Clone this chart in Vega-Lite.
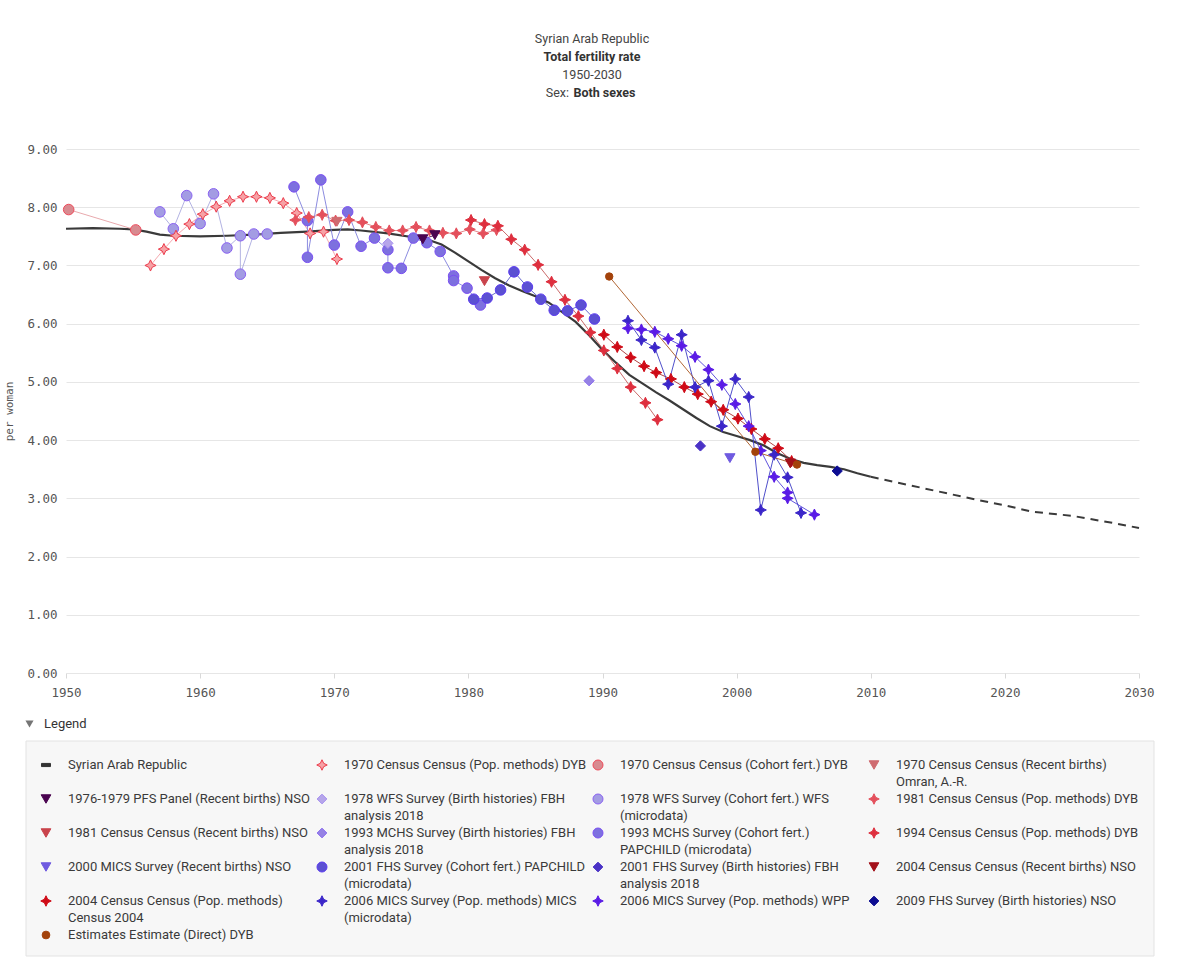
{
  "$schema": "https://vega.github.io/schema/vega-lite/v6.json",
  "background": "#ffffff",
  "padding": {"left": 3, "right": 5, "top": 0, "bottom": 0},
  "columns": 1,
  "spacing": 18,
  "config": {"view": {"stroke": null}, "font": "Roboto"},
  "datasets": {
    "header": [
      {"part": "a", "r": 1, "t": "Syrian Arab Republic"},
      {"part": "b", "r": 2, "t": "Total fertility rate"},
      {"part": "a", "r": 3, "t": "1950-2030"},
      {"part": "c", "r": 4, "t": "Sex:"},
      {"part": "d", "r": 4, "t": "Both sexes"}
    ],
    "wpp": [
      {"kind": "est", "x": 1950, "y": 7.63}, {"kind": "est", "x": 1952, "y": 7.64}, {"kind": "est", "x": 1954, "y": 7.63},
      {"kind": "est", "x": 1955, "y": 7.62}, {"kind": "est", "x": 1956, "y": 7.58}, {"kind": "est", "x": 1957, "y": 7.53},
      {"kind": "est", "x": 1958, "y": 7.51}, {"kind": "est", "x": 1960, "y": 7.50}, {"kind": "est", "x": 1962, "y": 7.51},
      {"kind": "est", "x": 1964, "y": 7.53}, {"kind": "est", "x": 1966, "y": 7.56}, {"kind": "est", "x": 1968, "y": 7.58},
      {"kind": "est", "x": 1970, "y": 7.61}, {"kind": "est", "x": 1971, "y": 7.62}, {"kind": "est", "x": 1972, "y": 7.60},
      {"kind": "est", "x": 1974, "y": 7.55}, {"kind": "est", "x": 1976, "y": 7.48}, {"kind": "est", "x": 1977, "y": 7.44},
      {"kind": "est", "x": 1978, "y": 7.36}, {"kind": "est", "x": 1979, "y": 7.22}, {"kind": "est", "x": 1980, "y": 7.07},
      {"kind": "est", "x": 1981, "y": 6.92}, {"kind": "est", "x": 1982, "y": 6.78}, {"kind": "est", "x": 1983, "y": 6.66},
      {"kind": "est", "x": 1984, "y": 6.56}, {"kind": "est", "x": 1985, "y": 6.47}, {"kind": "est", "x": 1986, "y": 6.36},
      {"kind": "est", "x": 1987, "y": 6.20}, {"kind": "est", "x": 1988, "y": 6.03}, {"kind": "est", "x": 1989, "y": 5.80},
      {"kind": "est", "x": 1990, "y": 5.55}, {"kind": "est", "x": 1991, "y": 5.33}, {"kind": "est", "x": 1992, "y": 5.12},
      {"kind": "est", "x": 1993, "y": 4.97}, {"kind": "est", "x": 1994, "y": 4.82}, {"kind": "est", "x": 1995, "y": 4.68},
      {"kind": "est", "x": 1996, "y": 4.53}, {"kind": "est", "x": 1997, "y": 4.38}, {"kind": "est", "x": 1998, "y": 4.24},
      {"kind": "est", "x": 1999, "y": 4.14}, {"kind": "est", "x": 2000, "y": 4.07}, {"kind": "est", "x": 2001, "y": 4.00},
      {"kind": "est", "x": 2002, "y": 3.91}, {"kind": "est", "x": 2003, "y": 3.78}, {"kind": "est", "x": 2004, "y": 3.68},
      {"kind": "est", "x": 2005, "y": 3.61}, {"kind": "est", "x": 2006, "y": 3.57}, {"kind": "est", "x": 2007, "y": 3.54},
      {"kind": "est", "x": 2008, "y": 3.50}, {"kind": "est", "x": 2009, "y": 3.43}, {"kind": "est", "x": 2010, "y": 3.37},
      {"kind": "proj", "x": 2010, "y": 3.37}, {"kind": "proj", "x": 2012, "y": 3.27}, {"kind": "proj", "x": 2015, "y": 3.12},
      {"kind": "proj", "x": 2018, "y": 2.97}, {"kind": "proj", "x": 2020, "y": 2.88}, {"kind": "proj", "x": 2022, "y": 2.77},
      {"kind": "proj", "x": 2025, "y": 2.70}, {"kind": "proj", "x": 2028, "y": 2.58}, {"kind": "proj", "x": 2030, "y": 2.49}
    ],
    "obs": [
      {"s": "1970 Census Census (Pop. methods) DYB", "i": 1, "x": 1956.3, "y": 7.00},
      {"s": "1970 Census Census (Pop. methods) DYB", "i": 2, "x": 1957.3, "y": 7.28},
      {"s": "1970 Census Census (Pop. methods) DYB", "i": 3, "x": 1958.2, "y": 7.51},
      {"s": "1970 Census Census (Pop. methods) DYB", "i": 4, "x": 1959.2, "y": 7.71},
      {"s": "1970 Census Census (Pop. methods) DYB", "i": 5, "x": 1960.2, "y": 7.88},
      {"s": "1970 Census Census (Pop. methods) DYB", "i": 6, "x": 1961.2, "y": 8.01},
      {"s": "1970 Census Census (Pop. methods) DYB", "i": 7, "x": 1962.2, "y": 8.11},
      {"s": "1970 Census Census (Pop. methods) DYB", "i": 8, "x": 1963.2, "y": 8.18},
      {"s": "1970 Census Census (Pop. methods) DYB", "i": 9, "x": 1964.2, "y": 8.18},
      {"s": "1970 Census Census (Pop. methods) DYB", "i": 10, "x": 1965.2, "y": 8.16},
      {"s": "1970 Census Census (Pop. methods) DYB", "i": 11, "x": 1966.2, "y": 8.07},
      {"s": "1970 Census Census (Pop. methods) DYB", "i": 12, "x": 1967.2, "y": 7.90},
      {"s": "1970 Census Census (Pop. methods) DYB", "i": 13, "x": 1968.2, "y": 7.55},
      {"s": "1970 Census Census (Pop. methods) DYB", "i": 14, "x": 1969.2, "y": 7.58},
      {"s": "1970 Census Census (Pop. methods) DYB", "i": 15, "x": 1970.2, "y": 7.11},
      {"s": "1970 Census Census (Cohort fert.) DYB", "i": 16, "x": 1950.2, "y": 7.96},
      {"s": "1970 Census Census (Cohort fert.) DYB", "i": 17, "x": 1955.2, "y": 7.61},
      {"s": "1970 Census Census (Recent births) Omran, A.-R.", "i": 18, "x": 1970.2, "y": 7.75},
      {"s": "1976-1979 PFS Panel (Recent births) NSO", "i": 19, "x": 1976.6, "y": 7.45},
      {"s": "1976-1979 PFS Panel (Recent births) NSO", "i": 20, "x": 1977.5, "y": 7.52},
      {"s": "1978 WFS Survey (Birth histories) FBH analysis 2018", "i": 21, "x": 1974.0, "y": 7.38},
      {"s": "1978 WFS Survey (Cohort fert.) WFS (microdata)", "i": 22, "x": 1957.0, "y": 7.92},
      {"s": "1978 WFS Survey (Cohort fert.) WFS (microdata)", "i": 23, "x": 1958.0, "y": 7.63},
      {"s": "1978 WFS Survey (Cohort fert.) WFS (microdata)", "i": 24, "x": 1959.0, "y": 8.20},
      {"s": "1978 WFS Survey (Cohort fert.) WFS (microdata)", "i": 25, "x": 1960.0, "y": 7.72},
      {"s": "1978 WFS Survey (Cohort fert.) WFS (microdata)", "i": 26, "x": 1961.0, "y": 8.23},
      {"s": "1978 WFS Survey (Cohort fert.) WFS (microdata)", "i": 27, "x": 1962.0, "y": 7.30},
      {"s": "1978 WFS Survey (Cohort fert.) WFS (microdata)", "i": 28, "x": 1963.0, "y": 7.51},
      {"s": "1978 WFS Survey (Cohort fert.) WFS (microdata)", "i": 29, "x": 1963.0, "y": 6.85},
      {"s": "1978 WFS Survey (Cohort fert.) WFS (microdata)", "i": 30, "x": 1964.0, "y": 7.54},
      {"s": "1978 WFS Survey (Cohort fert.) WFS (microdata)", "i": 31, "x": 1965.0, "y": 7.54},
      {"s": "1981 Census Census (Pop. methods) DYB", "i": 32, "x": 1967.1, "y": 7.78},
      {"s": "1981 Census Census (Pop. methods) DYB", "i": 33, "x": 1968.1, "y": 7.83},
      {"s": "1981 Census Census (Pop. methods) DYB", "i": 34, "x": 1969.1, "y": 7.87},
      {"s": "1981 Census Census (Pop. methods) DYB", "i": 35, "x": 1970.1, "y": 7.77},
      {"s": "1981 Census Census (Pop. methods) DYB", "i": 36, "x": 1971.1, "y": 7.78},
      {"s": "1981 Census Census (Pop. methods) DYB", "i": 37, "x": 1972.1, "y": 7.74},
      {"s": "1981 Census Census (Pop. methods) DYB", "i": 38, "x": 1973.1, "y": 7.66},
      {"s": "1981 Census Census (Pop. methods) DYB", "i": 39, "x": 1974.1, "y": 7.60},
      {"s": "1981 Census Census (Pop. methods) DYB", "i": 40, "x": 1975.1, "y": 7.60},
      {"s": "1981 Census Census (Pop. methods) DYB", "i": 41, "x": 1976.1, "y": 7.66},
      {"s": "1981 Census Census (Pop. methods) DYB", "i": 42, "x": 1977.1, "y": 7.60},
      {"s": "1981 Census Census (Pop. methods) DYB", "i": 43, "x": 1978.1, "y": 7.56},
      {"s": "1981 Census Census (Pop. methods) DYB", "i": 44, "x": 1979.1, "y": 7.55},
      {"s": "1981 Census Census (Pop. methods) DYB", "i": 45, "x": 1980.1, "y": 7.62},
      {"s": "1981 Census Census (Pop. methods) DYB", "i": 46, "x": 1981.1, "y": 7.55},
      {"s": "1981 Census Census (Pop. methods) DYB", "i": 47, "x": 1982.1, "y": 7.61},
      {"s": "1981 Census Census (Recent births) NSO", "i": 48, "x": 1981.2, "y": 6.73},
      {"s": "1993 MCHS Survey (Birth histories) FBH analysis 2018", "i": 49, "x": 1989.0, "y": 5.02},
      {"s": "1993 MCHS Survey (Cohort fert.) PAPCHILD (microdata)", "i": 50, "x": 1967.0, "y": 8.35},
      {"s": "1993 MCHS Survey (Cohort fert.) PAPCHILD (microdata)", "i": 51, "x": 1968.0, "y": 7.77},
      {"s": "1993 MCHS Survey (Cohort fert.) PAPCHILD (microdata)", "i": 52, "x": 1968.0, "y": 7.14},
      {"s": "1993 MCHS Survey (Cohort fert.) PAPCHILD (microdata)", "i": 53, "x": 1969.0, "y": 8.47},
      {"s": "1993 MCHS Survey (Cohort fert.) PAPCHILD (microdata)", "i": 54, "x": 1970.0, "y": 7.35},
      {"s": "1993 MCHS Survey (Cohort fert.) PAPCHILD (microdata)", "i": 55, "x": 1971.0, "y": 7.92},
      {"s": "1993 MCHS Survey (Cohort fert.) PAPCHILD (microdata)", "i": 56, "x": 1972.0, "y": 7.33},
      {"s": "1993 MCHS Survey (Cohort fert.) PAPCHILD (microdata)", "i": 57, "x": 1973.0, "y": 7.47},
      {"s": "1993 MCHS Survey (Cohort fert.) PAPCHILD (microdata)", "i": 58, "x": 1974.0, "y": 7.27},
      {"s": "1993 MCHS Survey (Cohort fert.) PAPCHILD (microdata)", "i": 59, "x": 1974.0, "y": 6.96},
      {"s": "1993 MCHS Survey (Cohort fert.) PAPCHILD (microdata)", "i": 60, "x": 1975.0, "y": 6.95},
      {"s": "1993 MCHS Survey (Cohort fert.) PAPCHILD (microdata)", "i": 61, "x": 1975.9, "y": 7.47},
      {"s": "1993 MCHS Survey (Cohort fert.) PAPCHILD (microdata)", "i": 62, "x": 1976.9, "y": 7.39},
      {"s": "1993 MCHS Survey (Cohort fert.) PAPCHILD (microdata)", "i": 63, "x": 1977.9, "y": 7.24},
      {"s": "1993 MCHS Survey (Cohort fert.) PAPCHILD (microdata)", "i": 64, "x": 1978.9, "y": 6.82},
      {"s": "1993 MCHS Survey (Cohort fert.) PAPCHILD (microdata)", "i": 65, "x": 1978.9, "y": 6.74},
      {"s": "1993 MCHS Survey (Cohort fert.) PAPCHILD (microdata)", "i": 66, "x": 1979.9, "y": 6.61},
      {"s": "1993 MCHS Survey (Cohort fert.) PAPCHILD (microdata)", "i": 67, "x": 1980.9, "y": 6.32},
      {"s": "1994 Census Census (Pop. methods) DYB", "i": 68, "x": 1980.2, "y": 7.78},
      {"s": "1994 Census Census (Pop. methods) DYB", "i": 69, "x": 1981.2, "y": 7.71},
      {"s": "1994 Census Census (Pop. methods) DYB", "i": 70, "x": 1982.2, "y": 7.68},
      {"s": "1994 Census Census (Pop. methods) DYB", "i": 71, "x": 1983.2, "y": 7.45},
      {"s": "1994 Census Census (Pop. methods) DYB", "i": 72, "x": 1984.2, "y": 7.27},
      {"s": "1994 Census Census (Pop. methods) DYB", "i": 73, "x": 1985.2, "y": 7.01},
      {"s": "1994 Census Census (Pop. methods) DYB", "i": 74, "x": 1986.2, "y": 6.72},
      {"s": "1994 Census Census (Pop. methods) DYB", "i": 75, "x": 1987.2, "y": 6.41},
      {"s": "1994 Census Census (Pop. methods) DYB", "i": 76, "x": 1988.2, "y": 6.13},
      {"s": "1994 Census Census (Pop. methods) DYB", "i": 77, "x": 1989.1, "y": 5.85},
      {"s": "1994 Census Census (Pop. methods) DYB", "i": 78, "x": 1990.1, "y": 5.54},
      {"s": "1994 Census Census (Pop. methods) DYB", "i": 79, "x": 1991.1, "y": 5.23},
      {"s": "1994 Census Census (Pop. methods) DYB", "i": 80, "x": 1992.1, "y": 4.91},
      {"s": "1994 Census Census (Pop. methods) DYB", "i": 81, "x": 1993.2, "y": 4.64},
      {"s": "1994 Census Census (Pop. methods) DYB", "i": 82, "x": 1994.1, "y": 4.35},
      {"s": "2000 MICS Survey (Recent births) NSO", "i": 83, "x": 1999.5, "y": 3.69},
      {"s": "2001 FHS Survey (Cohort fert.) PAPCHILD (microdata)", "i": 84, "x": 1980.4, "y": 6.42},
      {"s": "2001 FHS Survey (Cohort fert.) PAPCHILD (microdata)", "i": 85, "x": 1981.4, "y": 6.44},
      {"s": "2001 FHS Survey (Cohort fert.) PAPCHILD (microdata)", "i": 86, "x": 1982.4, "y": 6.58},
      {"s": "2001 FHS Survey (Cohort fert.) PAPCHILD (microdata)", "i": 87, "x": 1983.4, "y": 6.89},
      {"s": "2001 FHS Survey (Cohort fert.) PAPCHILD (microdata)", "i": 88, "x": 1984.4, "y": 6.63},
      {"s": "2001 FHS Survey (Cohort fert.) PAPCHILD (microdata)", "i": 89, "x": 1985.4, "y": 6.42},
      {"s": "2001 FHS Survey (Cohort fert.) PAPCHILD (microdata)", "i": 90, "x": 1986.4, "y": 6.23},
      {"s": "2001 FHS Survey (Cohort fert.) PAPCHILD (microdata)", "i": 91, "x": 1987.4, "y": 6.22},
      {"s": "2001 FHS Survey (Cohort fert.) PAPCHILD (microdata)", "i": 92, "x": 1988.4, "y": 6.32},
      {"s": "2001 FHS Survey (Cohort fert.) PAPCHILD (microdata)", "i": 93, "x": 1989.4, "y": 6.08},
      {"s": "2001 FHS Survey (Birth histories) FBH analysis 2018", "i": 94, "x": 1997.3, "y": 3.90},
      {"s": "2004 Census Census (Pop. methods) Census 2004", "i": 95, "x": 1990.1, "y": 5.81},
      {"s": "2004 Census Census (Pop. methods) Census 2004", "i": 96, "x": 1991.1, "y": 5.60},
      {"s": "2004 Census Census (Pop. methods) Census 2004", "i": 97, "x": 1992.1, "y": 5.42},
      {"s": "2004 Census Census (Pop. methods) Census 2004", "i": 98, "x": 1993.1, "y": 5.27},
      {"s": "2004 Census Census (Pop. methods) Census 2004", "i": 99, "x": 1994.0, "y": 5.16},
      {"s": "2004 Census Census (Pop. methods) Census 2004", "i": 100, "x": 1995.1, "y": 5.05},
      {"s": "2004 Census Census (Pop. methods) Census 2004", "i": 101, "x": 1996.1, "y": 4.91},
      {"s": "2004 Census Census (Pop. methods) Census 2004", "i": 102, "x": 1997.1, "y": 4.79},
      {"s": "2004 Census Census (Pop. methods) Census 2004", "i": 103, "x": 1998.1, "y": 4.66},
      {"s": "2004 Census Census (Pop. methods) Census 2004", "i": 104, "x": 1999.0, "y": 4.52},
      {"s": "2004 Census Census (Pop. methods) Census 2004", "i": 105, "x": 2000.1, "y": 4.37},
      {"s": "2004 Census Census (Pop. methods) Census 2004", "i": 106, "x": 2001.1, "y": 4.19},
      {"s": "2004 Census Census (Pop. methods) Census 2004", "i": 107, "x": 2002.1, "y": 4.02},
      {"s": "2004 Census Census (Pop. methods) Census 2004", "i": 108, "x": 2003.1, "y": 3.86},
      {"s": "2004 Census Census (Pop. methods) Census 2004", "i": 109, "x": 2004.1, "y": 3.64},
      {"s": "2004 Census Census (Recent births) NSO", "i": 110, "x": 2004.0, "y": 3.60},
      {"s": "2006 MICS Survey (Pop. methods) MICS (microdata)", "i": 111, "x": 1991.9, "y": 6.05},
      {"s": "2006 MICS Survey (Pop. methods) MICS (microdata)", "i": 112, "x": 1992.9, "y": 5.72},
      {"s": "2006 MICS Survey (Pop. methods) MICS (microdata)", "i": 113, "x": 1993.9, "y": 5.59},
      {"s": "2006 MICS Survey (Pop. methods) MICS (microdata)", "i": 114, "x": 1994.9, "y": 4.96},
      {"s": "2006 MICS Survey (Pop. methods) MICS (microdata)", "i": 115, "x": 1995.9, "y": 5.81},
      {"s": "2006 MICS Survey (Pop. methods) MICS (microdata)", "i": 116, "x": 1996.9, "y": 4.91},
      {"s": "2006 MICS Survey (Pop. methods) MICS (microdata)", "i": 117, "x": 1997.9, "y": 5.02},
      {"s": "2006 MICS Survey (Pop. methods) MICS (microdata)", "i": 118, "x": 1998.9, "y": 4.24},
      {"s": "2006 MICS Survey (Pop. methods) MICS (microdata)", "i": 119, "x": 1999.9, "y": 5.05},
      {"s": "2006 MICS Survey (Pop. methods) MICS (microdata)", "i": 120, "x": 2000.9, "y": 4.74},
      {"s": "2006 MICS Survey (Pop. methods) MICS (microdata)", "i": 121, "x": 2001.8, "y": 2.80},
      {"s": "2006 MICS Survey (Pop. methods) MICS (microdata)", "i": 122, "x": 2002.8, "y": 3.75},
      {"s": "2006 MICS Survey (Pop. methods) MICS (microdata)", "i": 123, "x": 2003.8, "y": 3.36},
      {"s": "2006 MICS Survey (Pop. methods) MICS (microdata)", "i": 124, "x": 2004.8, "y": 2.75},
      {"s": "2006 MICS Survey (Pop. methods) WPP", "i": 125, "x": 1991.9, "y": 5.92},
      {"s": "2006 MICS Survey (Pop. methods) WPP", "i": 126, "x": 1992.9, "y": 5.90},
      {"s": "2006 MICS Survey (Pop. methods) WPP", "i": 127, "x": 1993.9, "y": 5.86},
      {"s": "2006 MICS Survey (Pop. methods) WPP", "i": 128, "x": 1994.9, "y": 5.74},
      {"s": "2006 MICS Survey (Pop. methods) WPP", "i": 129, "x": 1995.9, "y": 5.62},
      {"s": "2006 MICS Survey (Pop. methods) WPP", "i": 130, "x": 1996.9, "y": 5.43},
      {"s": "2006 MICS Survey (Pop. methods) WPP", "i": 131, "x": 1997.9, "y": 5.21},
      {"s": "2006 MICS Survey (Pop. methods) WPP", "i": 132, "x": 1998.9, "y": 4.95},
      {"s": "2006 MICS Survey (Pop. methods) WPP", "i": 133, "x": 1999.9, "y": 4.62},
      {"s": "2006 MICS Survey (Pop. methods) WPP", "i": 134, "x": 2000.9, "y": 4.24},
      {"s": "2006 MICS Survey (Pop. methods) WPP", "i": 135, "x": 2001.8, "y": 3.82},
      {"s": "2006 MICS Survey (Pop. methods) WPP", "i": 136, "x": 2002.8, "y": 3.37},
      {"s": "2006 MICS Survey (Pop. methods) WPP", "i": 137, "x": 2003.8, "y": 3.10},
      {"s": "2006 MICS Survey (Pop. methods) WPP", "i": 138, "x": 2003.8, "y": 3.00},
      {"s": "2006 MICS Survey (Pop. methods) WPP", "i": 139, "x": 2005.8, "y": 2.72},
      {"s": "2009 FHS Survey (Birth histories) NSO", "i": 140, "x": 2007.5, "y": 3.47},
      {"s": "Estimates Estimate (Direct) DYB", "i": 141, "x": 1990.5, "y": 6.81},
      {"s": "Estimates Estimate (Direct) DYB", "i": 142, "x": 2001.4, "y": 3.80},
      {"s": "Estimates Estimate (Direct) DYB", "i": 143, "x": 2004.5, "y": 3.58}
    ],
    "legend": [
      {"s": "Syrian Arab Republic", "col": 0, "row": 0, "label": "Syrian Arab Republic"},
      {"s": "1970 Census Census (Pop. methods) DYB", "col": 1, "row": 0, "label": "1970 Census Census (Pop. methods) DYB"},
      {"s": "1970 Census Census (Cohort fert.) DYB", "col": 2, "row": 0, "label": "1970 Census Census (Cohort fert.) DYB"},
      {"s": "1970 Census Census (Recent births) Omran, A.-R.", "col": 3, "row": 0, "label": "1970 Census Census (Recent births)\nOmran, A.-R."},
      {"s": "1976-1979 PFS Panel (Recent births) NSO", "col": 0, "row": 1, "label": "1976-1979 PFS Panel (Recent births) NSO"},
      {"s": "1978 WFS Survey (Birth histories) FBH analysis 2018", "col": 1, "row": 1, "label": "1978 WFS Survey (Birth histories) FBH\nanalysis 2018"},
      {"s": "1978 WFS Survey (Cohort fert.) WFS (microdata)", "col": 2, "row": 1, "label": "1978 WFS Survey (Cohort fert.) WFS\n(microdata)"},
      {"s": "1981 Census Census (Pop. methods) DYB", "col": 3, "row": 1, "label": "1981 Census Census (Pop. methods) DYB"},
      {"s": "1981 Census Census (Recent births) NSO", "col": 0, "row": 2, "label": "1981 Census Census (Recent births) NSO"},
      {"s": "1993 MCHS Survey (Birth histories) FBH analysis 2018", "col": 1, "row": 2, "label": "1993 MCHS Survey (Birth histories) FBH\nanalysis 2018"},
      {"s": "1993 MCHS Survey (Cohort fert.) PAPCHILD (microdata)", "col": 2, "row": 2, "label": "1993 MCHS Survey (Cohort fert.)\nPAPCHILD (microdata)"},
      {"s": "1994 Census Census (Pop. methods) DYB", "col": 3, "row": 2, "label": "1994 Census Census (Pop. methods) DYB"},
      {"s": "2000 MICS Survey (Recent births) NSO", "col": 0, "row": 3, "label": "2000 MICS Survey (Recent births) NSO"},
      {"s": "2001 FHS Survey (Cohort fert.) PAPCHILD (microdata)", "col": 1, "row": 3, "label": "2001 FHS Survey (Cohort fert.) PAPCHILD\n(microdata)"},
      {"s": "2001 FHS Survey (Birth histories) FBH analysis 2018", "col": 2, "row": 3, "label": "2001 FHS Survey (Birth histories) FBH\nanalysis 2018"},
      {"s": "2004 Census Census (Recent births) NSO", "col": 3, "row": 3, "label": "2004 Census Census (Recent births) NSO"},
      {"s": "2004 Census Census (Pop. methods) Census 2004", "col": 0, "row": 4, "label": "2004 Census Census (Pop. methods)\nCensus 2004"},
      {"s": "2006 MICS Survey (Pop. methods) MICS (microdata)", "col": 1, "row": 4, "label": "2006 MICS Survey (Pop. methods) MICS\n(microdata)"},
      {"s": "2006 MICS Survey (Pop. methods) WPP", "col": 2, "row": 4, "label": "2006 MICS Survey (Pop. methods) WPP"},
      {"s": "2009 FHS Survey (Birth histories) NSO", "col": 3, "row": 4, "label": "2009 FHS Survey (Birth histories) NSO"},
      {"s": "Estimates Estimate (Direct) DYB", "col": 0, "row": 5, "label": "Estimates Estimate (Direct) DYB"}
    ]
  },
  "concat": [
    {
      "width": 1073,
      "height": 125,
      "data": {"name": "header"},
      "encoding": {
        "y": {"field": "r", "type": "quantitative", "scale": {"domain": [-1.16667, 5.77778], "reverse": true, "nice": false, "zero": false}, "axis": null},
        "text": {"field": "t", "type": "nominal"}
      },
      "layer": [
        {"transform": [{"filter": "datum.part == 'a'"}], "mark": {"type": "text", "font": "Roboto", "fontSize": 12.5, "color": "#444444", "baseline": "middle", "align": "center", "dx": -10.5}},
        {"transform": [{"filter": "datum.part == 'b'"}], "mark": {"type": "text", "font": "Roboto", "fontSize": 12.5, "fontWeight": "bold", "color": "#333333", "baseline": "middle", "align": "center", "dx": -10.5}},
        {"transform": [{"filter": "datum.part == 'c'"}], "mark": {"type": "text", "font": "Roboto", "fontSize": 12.5, "color": "#444444", "baseline": "middle", "align": "right", "dx": -33.5}},
        {"transform": [{"filter": "datum.part == 'd'"}], "mark": {"type": "text", "font": "Roboto", "fontSize": 12.5, "fontWeight": "bold", "color": "#333333", "baseline": "middle", "align": "left", "dx": -29}}
      ]
    },
    {
      "width": 1073,
      "height": 524,
      "layer": [
        {
          "data": {"name": "wpp"},
          "transform": [{"filter": "datum.kind == 'est'"}],
          "mark": {"type": "line", "color": "#3a3a3a", "strokeWidth": 2.2},
          "encoding": {
            "x": {"field": "x", "type": "quantitative", "scale": {"domain": [1950, 2030], "nice": false, "zero": false},
              "axis": {"values": [1950, 1960, 1970, 1980, 1990, 2000, 2010, 2020, 2030], "format": "d", "title": null, "grid": false, "domain": false, "ticks": true, "tickColor": "#d9d9d9", "tickSize": 5, "labelFont": "DejaVu Sans Mono", "labelFontSize": 12.5, "labelColor": "#555555", "labelPadding": 8, "labelFlush": false}},
            "y": {"field": "y", "type": "quantitative", "scale": {"domain": [0, 9], "nice": false, "zero": true},
              "axis": {"values": [0, 1, 2, 3, 4, 5, 6, 7, 8, 9], "format": ".2f", "title": "per woman", "grid": true, "gridColor": "#e6e6e6", "domain": false, "ticks": false, "labelFont": "DejaVu Sans Mono", "labelFontSize": 12.5, "labelColor": "#555555", "labelPadding": 9, "titleFont": "DejaVu Sans Mono", "titleFontSize": 11, "titleFontWeight": "normal", "titleColor": "#555555", "titlePadding": 12}}
          }
        },
        {
          "data": {"name": "wpp"},
          "transform": [{"filter": "datum.kind == 'proj'"}],
          "mark": {"type": "line", "color": "#3a3a3a", "strokeWidth": 2, "strokeDash": [8, 6]},
          "encoding": {"x": {"field": "x", "type": "quantitative"}, "y": {"field": "y", "type": "quantitative"}}
        },
        {
          "data": {"name": "obs"},
          "mark": {"type": "line", "strokeWidth": 1, "opacity": 0.9},
          "encoding": {
            "x": {"field": "x", "type": "quantitative"},
            "y": {"field": "y", "type": "quantitative"},
            "order": {"field": "i", "type": "quantitative"},
            "color": {"field": "s", "type": "nominal", "legend": null, "scale": {
              "domain": ["Syrian Arab Republic", "1970 Census Census (Pop. methods) DYB", "1970 Census Census (Cohort fert.) DYB", "1970 Census Census (Recent births) Omran, A.-R.", "1976-1979 PFS Panel (Recent births) NSO", "1978 WFS Survey (Birth histories) FBH analysis 2018", "1978 WFS Survey (Cohort fert.) WFS (microdata)", "1981 Census Census (Pop. methods) DYB", "1981 Census Census (Recent births) NSO", "1993 MCHS Survey (Birth histories) FBH analysis 2018", "1993 MCHS Survey (Cohort fert.) PAPCHILD (microdata)", "1994 Census Census (Pop. methods) DYB", "2000 MICS Survey (Recent births) NSO", "2001 FHS Survey (Cohort fert.) PAPCHILD (microdata)", "2001 FHS Survey (Birth histories) FBH analysis 2018", "2004 Census Census (Recent births) NSO", "2004 Census Census (Pop. methods) Census 2004", "2006 MICS Survey (Pop. methods) MICS (microdata)", "2006 MICS Survey (Pop. methods) WPP", "2009 FHS Survey (Birth histories) NSO", "Estimates Estimate (Direct) DYB"],
              "range": ["#333333", "#f3a0a6", "#e6a0a4", "#cf6b70", "#4a0450", "#a58ef0", "#aaaadf", "#e07a80", "#c9434c", "#8a6af0", "#7e7edc", "#c45a5a", "#6f5ae0", "#5656c8", "#4a32c6", "#a3111a", "#a83030", "#3c3cc4", "#4f40d8", "#0d0d92", "#a8551e"]}}
          }
        },
        {
          "data": {"name": "obs"},
          "transform": [{"filter": {"field": "s", "oneOf": ["1970 Census Census (Cohort fert.) DYB", "1978 WFS Survey (Cohort fert.) WFS (microdata)", "1993 MCHS Survey (Cohort fert.) PAPCHILD (microdata)", "2001 FHS Survey (Cohort fert.) PAPCHILD (microdata)"]}}],
          "mark": {"type": "point", "filled": true, "strokeWidth": 1, "opacity": 1, "size": 112},
          "encoding": {
            "x": {"field": "x", "type": "quantitative"},
            "y": {"field": "y", "type": "quantitative"},
            "shape": {"field": "s", "type": "nominal", "legend": null, "scale": {
              "domain": ["Syrian Arab Republic", "1970 Census Census (Pop. methods) DYB", "1970 Census Census (Cohort fert.) DYB", "1970 Census Census (Recent births) Omran, A.-R.", "1976-1979 PFS Panel (Recent births) NSO", "1978 WFS Survey (Birth histories) FBH analysis 2018", "1978 WFS Survey (Cohort fert.) WFS (microdata)", "1981 Census Census (Pop. methods) DYB", "1981 Census Census (Recent births) NSO", "1993 MCHS Survey (Birth histories) FBH analysis 2018", "1993 MCHS Survey (Cohort fert.) PAPCHILD (microdata)", "1994 Census Census (Pop. methods) DYB", "2000 MICS Survey (Recent births) NSO", "2001 FHS Survey (Cohort fert.) PAPCHILD (microdata)", "2001 FHS Survey (Birth histories) FBH analysis 2018", "2004 Census Census (Recent births) NSO", "2004 Census Census (Pop. methods) Census 2004", "2006 MICS Survey (Pop. methods) MICS (microdata)", "2006 MICS Survey (Pop. methods) WPP", "2009 FHS Survey (Birth histories) NSO", "Estimates Estimate (Direct) DYB"],
              "range": ["M-1,-0.35L1,-0.35L1,0.35L-1,0.35Z", "M0,-1L0.32,-0.32L1,0L0.32,0.32L0,1L-0.32,0.32L-1,0L-0.32,-0.32Z", "circle", "triangle-down", "triangle-down", "diamond", "circle", "M0,-1L0.32,-0.32L1,0L0.32,0.32L0,1L-0.32,0.32L-1,0L-0.32,-0.32Z", "triangle-down", "diamond", "circle", "M0,-1L0.32,-0.32L1,0L0.32,0.32L0,1L-0.32,0.32L-1,0L-0.32,-0.32Z", "triangle-down", "circle", "diamond", "triangle-down", "M0,-1L0.32,-0.32L1,0L0.32,0.32L0,1L-0.32,0.32L-1,0L-0.32,-0.32Z", "M0,-1L0.32,-0.32L1,0L0.32,0.32L0,1L-0.32,0.32L-1,0L-0.32,-0.32Z", "M0,-1L0.32,-0.32L1,0L0.32,0.32L0,1L-0.32,0.32L-1,0L-0.32,-0.32Z", "diamond", "circle"]}},
            "fill": {"field": "s", "type": "nominal", "legend": null, "scale": {
              "domain": ["Syrian Arab Republic", "1970 Census Census (Pop. methods) DYB", "1970 Census Census (Cohort fert.) DYB", "1970 Census Census (Recent births) Omran, A.-R.", "1976-1979 PFS Panel (Recent births) NSO", "1978 WFS Survey (Birth histories) FBH analysis 2018", "1978 WFS Survey (Cohort fert.) WFS (microdata)", "1981 Census Census (Pop. methods) DYB", "1981 Census Census (Recent births) NSO", "1993 MCHS Survey (Birth histories) FBH analysis 2018", "1993 MCHS Survey (Cohort fert.) PAPCHILD (microdata)", "1994 Census Census (Pop. methods) DYB", "2000 MICS Survey (Recent births) NSO", "2001 FHS Survey (Cohort fert.) PAPCHILD (microdata)", "2001 FHS Survey (Birth histories) FBH analysis 2018", "2004 Census Census (Recent births) NSO", "2004 Census Census (Pop. methods) Census 2004", "2006 MICS Survey (Pop. methods) MICS (microdata)", "2006 MICS Survey (Pop. methods) WPP", "2009 FHS Survey (Birth histories) NSO", "Estimates Estimate (Direct) DYB"],
              "range": ["#333333", "#f6a2a6", "#d88a90", "#cf6b70", "#4a0450", "#b6a6ea", "#a39ce3", "#e4505c", "#c9434c", "#9582e4", "#7d70df", "#de2f3e", "#6f5ae0", "#5b50d2", "#4a32c6", "#a3111a", "#cf0a16", "#3b26c9", "#5a1be6", "#0d0d92", "#a3420b"]}},
            "stroke": {"field": "s", "type": "nominal", "legend": null, "scale": {
              "domain": ["Syrian Arab Republic", "1970 Census Census (Pop. methods) DYB", "1970 Census Census (Cohort fert.) DYB", "1970 Census Census (Recent births) Omran, A.-R.", "1976-1979 PFS Panel (Recent births) NSO", "1978 WFS Survey (Birth histories) FBH analysis 2018", "1978 WFS Survey (Cohort fert.) WFS (microdata)", "1981 Census Census (Pop. methods) DYB", "1981 Census Census (Recent births) NSO", "1993 MCHS Survey (Birth histories) FBH analysis 2018", "1993 MCHS Survey (Cohort fert.) PAPCHILD (microdata)", "1994 Census Census (Pop. methods) DYB", "2000 MICS Survey (Recent births) NSO", "2001 FHS Survey (Cohort fert.) PAPCHILD (microdata)", "2001 FHS Survey (Birth histories) FBH analysis 2018", "2004 Census Census (Recent births) NSO", "2004 Census Census (Pop. methods) Census 2004", "2006 MICS Survey (Pop. methods) MICS (microdata)", "2006 MICS Survey (Pop. methods) WPP", "2009 FHS Survey (Birth histories) NSO", "Estimates Estimate (Direct) DYB"],
              "range": ["#333333", "#ec3c4c", "#ee4a5a", "#cf6b70", "#4a0450", "#a58ef0", "#8a62f2", "#e4505c", "#c9434c", "#8a6af0", "#7a4ff2", "#de2f3e", "#6f5ae0", "#5a3af0", "#4a32c6", "#a3111a", "#cf0a16", "#3b26c9", "#5a1be6", "#0d0d92", "#a3420b"]}}
          }
        },
        {
          "data": {"name": "obs"},
          "transform": [{"filter": {"field": "s", "oneOf": ["1970 Census Census (Pop. methods) DYB", "1981 Census Census (Pop. methods) DYB", "1994 Census Census (Pop. methods) DYB", "2004 Census Census (Pop. methods) Census 2004", "2006 MICS Survey (Pop. methods) MICS (microdata)", "2006 MICS Survey (Pop. methods) WPP"]}}],
          "mark": {"type": "point", "filled": true, "strokeWidth": 1, "opacity": 1, "size": 125},
          "encoding": {
            "x": {"field": "x", "type": "quantitative"},
            "y": {"field": "y", "type": "quantitative"},
            "shape": {"field": "s", "type": "nominal", "legend": null},
            "fill": {"field": "s", "type": "nominal", "legend": null},
            "stroke": {"field": "s", "type": "nominal", "legend": null}
          }
        },
        {
          "data": {"name": "obs"},
          "transform": [{"filter": {"field": "s", "oneOf": ["1970 Census Census (Recent births) Omran, A.-R.", "1976-1979 PFS Panel (Recent births) NSO", "1981 Census Census (Recent births) NSO", "2000 MICS Survey (Recent births) NSO", "2004 Census Census (Recent births) NSO", "1978 WFS Survey (Birth histories) FBH analysis 2018", "1993 MCHS Survey (Birth histories) FBH analysis 2018", "2001 FHS Survey (Birth histories) FBH analysis 2018", "2009 FHS Survey (Birth histories) NSO"]}}],
          "mark": {"type": "point", "filled": true, "strokeWidth": 1, "opacity": 1, "size": 105},
          "encoding": {
            "x": {"field": "x", "type": "quantitative"},
            "y": {"field": "y", "type": "quantitative"},
            "shape": {"field": "s", "type": "nominal", "legend": null},
            "fill": {"field": "s", "type": "nominal", "legend": null},
            "stroke": {"field": "s", "type": "nominal", "legend": null}
          }
        },
        {
          "data": {"name": "obs"},
          "transform": [{"filter": {"field": "s", "oneOf": ["Estimates Estimate (Direct) DYB"]}}],
          "mark": {"type": "point", "filled": true, "strokeWidth": 1, "opacity": 1, "size": 55},
          "encoding": {
            "x": {"field": "x", "type": "quantitative"},
            "y": {"field": "y", "type": "quantitative"},
            "shape": {"field": "s", "type": "nominal", "legend": null},
            "fill": {"field": "s", "type": "nominal", "legend": null},
            "stroke": {"field": "s", "type": "nominal", "legend": null}
          }
        }
      ]
    },
    {
      "width": 1073,
      "height": 215,
      "layer": [
        {
          "data": {"values": [{"box": "legend"}]},
          "mark": {"type": "rect", "fill": "#f7f7f7", "stroke": "#e3e3e3", "strokeWidth": 1},
          "encoding": {
            "x": {"datum": -0.072464, "type": "quantitative", "scale": {"domain": [0.072464, 3.960145], "nice": false, "zero": false}, "axis": null},
            "x2": {"datum": 4.014493},
            "y": {"datum": -0.705882, "type": "quantitative", "scale": {"domain": [-0.705882, 5.617647], "reverse": true, "nice": false, "zero": false}, "axis": null},
            "y2": {"datum": 5.617647}
          }
        },
        {
          "data": {"values": [{"box": "toggle"}]},
          "mark": {"type": "point", "shape": "triangle-down", "filled": true, "color": "#3a3a3a", "size": 66},
          "encoding": {
            "x": {"datum": -0.0598, "type": "quantitative"},
            "y": {"datum": -1.2059, "type": "quantitative"}
          }
        },
        {
          "data": {"values": [{"box": "toggle"}]},
          "mark": {"type": "text", "text": "Legend", "align": "left", "baseline": "middle", "font": "Roboto", "fontSize": 13, "color": "#333333"},
          "encoding": {
            "x": {"datum": -0.007246, "type": "quantitative"},
            "y": {"datum": -1.2059, "type": "quantitative"}
          }
        },
        {
          "data": {"name": "legend"},
          "transform": [{"filter": {"field": "s", "oneOf": ["Syrian Arab Republic"]}}],
          "mark": {"type": "point", "filled": true, "strokeWidth": 1, "opacity": 1, "size": 81},
          "encoding": {
            "x": {"field": "col", "type": "quantitative"},
            "y": {"field": "row", "type": "quantitative"},
            "shape": {"field": "s", "type": "nominal", "legend": null},
            "fill": {"field": "s", "type": "nominal", "legend": null},
            "stroke": {"field": "s", "type": "nominal", "legend": null}
          }
        },
        {
          "data": {"name": "legend"},
          "transform": [{"filter": {"field": "s", "oneOf": ["1970 Census Census (Cohort fert.) DYB", "1978 WFS Survey (Cohort fert.) WFS (microdata)", "1993 MCHS Survey (Cohort fert.) PAPCHILD (microdata)", "2001 FHS Survey (Cohort fert.) PAPCHILD (microdata)"]}}],
          "mark": {"type": "point", "filled": true, "strokeWidth": 1, "opacity": 1, "size": 100},
          "encoding": {
            "x": {"field": "col", "type": "quantitative"},
            "y": {"field": "row", "type": "quantitative"},
            "shape": {"field": "s", "type": "nominal", "legend": null},
            "fill": {"field": "s", "type": "nominal", "legend": null},
            "stroke": {"field": "s", "type": "nominal", "legend": null}
          }
        },
        {
          "data": {"name": "legend"},
          "transform": [{"filter": {"field": "s", "oneOf": ["1970 Census Census (Pop. methods) DYB", "1981 Census Census (Pop. methods) DYB", "1994 Census Census (Pop. methods) DYB", "2004 Census Census (Pop. methods) Census 2004", "2006 MICS Survey (Pop. methods) MICS (microdata)", "2006 MICS Survey (Pop. methods) WPP"]}}],
          "mark": {"type": "point", "filled": true, "strokeWidth": 1, "opacity": 1, "size": 110},
          "encoding": {
            "x": {"field": "col", "type": "quantitative"},
            "y": {"field": "row", "type": "quantitative"},
            "shape": {"field": "s", "type": "nominal", "legend": null},
            "fill": {"field": "s", "type": "nominal", "legend": null},
            "stroke": {"field": "s", "type": "nominal", "legend": null}
          }
        },
        {
          "data": {"name": "legend"},
          "transform": [{"filter": {"field": "s", "oneOf": ["1970 Census Census (Recent births) Omran, A.-R.", "1976-1979 PFS Panel (Recent births) NSO", "1981 Census Census (Recent births) NSO", "2000 MICS Survey (Recent births) NSO", "2004 Census Census (Recent births) NSO", "1978 WFS Survey (Birth histories) FBH analysis 2018", "1993 MCHS Survey (Birth histories) FBH analysis 2018", "2001 FHS Survey (Birth histories) FBH analysis 2018", "2009 FHS Survey (Birth histories) NSO"]}}],
          "mark": {"type": "point", "filled": true, "strokeWidth": 1, "opacity": 1, "size": 95},
          "encoding": {
            "x": {"field": "col", "type": "quantitative"},
            "y": {"field": "row", "type": "quantitative"},
            "shape": {"field": "s", "type": "nominal", "legend": null},
            "fill": {"field": "s", "type": "nominal", "legend": null},
            "stroke": {"field": "s", "type": "nominal", "legend": null}
          }
        },
        {
          "data": {"name": "legend"},
          "transform": [{"filter": {"field": "s", "oneOf": ["Estimates Estimate (Direct) DYB"]}}],
          "mark": {"type": "point", "filled": true, "strokeWidth": 1, "opacity": 1, "size": 60},
          "encoding": {
            "x": {"field": "col", "type": "quantitative"},
            "y": {"field": "row", "type": "quantitative"},
            "shape": {"field": "s", "type": "nominal", "legend": null},
            "fill": {"field": "s", "type": "nominal", "legend": null},
            "stroke": {"field": "s", "type": "nominal", "legend": null}
          }
        },
        {
          "data": {"name": "legend"},
          "mark": {"type": "text", "align": "left", "baseline": "middle", "dx": 22, "font": "Roboto", "fontSize": 13, "color": "#3a3a3a", "lineBreak": "\n", "lineHeight": 17},
          "encoding": {
            "x": {"field": "col", "type": "quantitative"},
            "y": {"field": "row", "type": "quantitative"},
            "text": {"field": "label", "type": "nominal"}
          }
        }
      ]
    }
  ]
}
